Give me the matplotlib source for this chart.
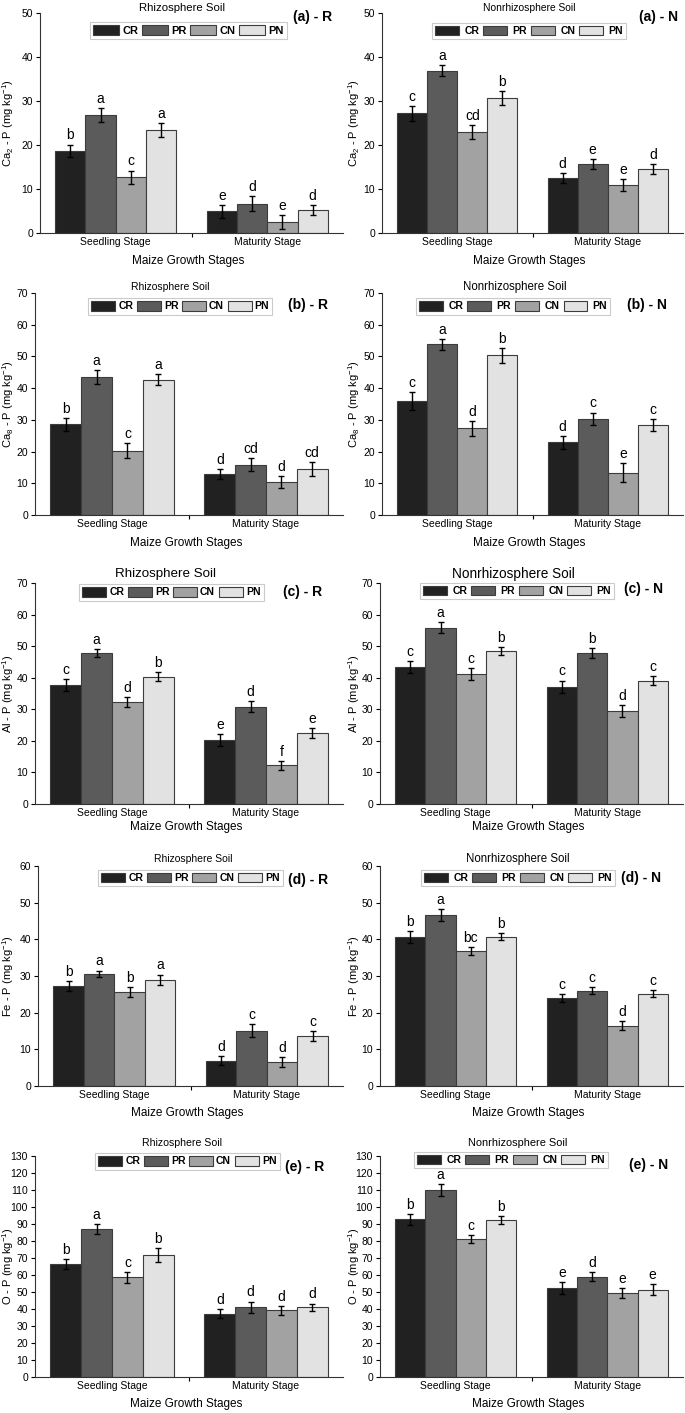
import matplotlib
matplotlib.use("Agg")
import matplotlib.pyplot as plt
from matplotlib.patches import Patch

plt.rcParams["font.family"] = ["Liberation Sans", "DejaVu Sans"]
plt.rcParams["mathtext.default"] = "regular"

#---------------------------
# Données
#---------------------------

treatments = ["CR", "PR", "CN", "PN"]
stages = ["Seedling Stage", "Maturity Stage"]
colors = ["#212121", "#5b5b5b", "#a2a2a2", "#e2e2e2"]

# Ca2-P
ca2_r_val = [[18.7, 26.8, 12.7, 23.4], [4.9, 6.6, 2.5, 5.2]]
ca2_r_err = [[1.4, 1.5, 1.5, 1.6], [1.5, 1.7, 1.5, 1.2]]
ca2_r_let = [["b", "a", "c", "a"], ["e", "d", "e", "d"]]
ca2_n_val = [[27.2, 36.9, 22.9, 30.7], [12.5, 15.7, 10.9, 14.6]]
ca2_n_err = [[1.7, 1.2, 1.6, 1.5], [1.1, 1.2, 1.4, 1.1]]
ca2_n_let = [["c", "a", "cd", "b"], ["d", "e", "e", "d"]]

# Ca8-P
ca8_r_val = [[28.6, 43.5, 20.3, 42.7], [12.9, 15.9, 10.5, 14.6]]
ca8_r_err = [[2.0, 2.3, 2.3, 1.7], [1.7, 2.0, 1.9, 2.2]]
ca8_r_let = [["b", "a", "c", "a"], ["d", "cd", "d", "cd"]]
ca8_n_val = [[35.9, 53.8, 27.3, 50.3], [22.9, 30.4, 13.4, 28.4]]
ca8_n_err = [[2.9, 1.7, 2.4, 2.4], [2.0, 1.9, 2.9, 2.0]]
ca8_n_let = [["c", "a", "d", "b"], ["d", "c", "e", "c"]]

# Al-P
al_r_val = [[37.7, 47.9, 32.4, 40.3], [20.3, 30.8, 12.2, 22.5]]
al_r_err = [[2.0, 1.3, 1.6, 1.4], [1.9, 1.7, 1.5, 1.7]]
al_r_let = [["c", "a", "d", "b"], ["e", "d", "f", "e"]]
al_n_val = [[43.4, 55.9, 41.2, 48.5], [37.1, 47.7, 29.5, 39.0]]
al_n_err = [[1.9, 1.6, 1.8, 1.3], [2.0, 1.6, 1.9, 1.4]]
al_n_let = [["c", "a", "c", "b"], ["c", "b", "d", "c"]]

# Fe-P
fe_r_val = [[27.2, 30.6, 25.6, 29.0], [6.9, 15.1, 6.5, 13.7]]
fe_r_err = [[1.4, 0.9, 1.3, 1.4], [1.3, 1.7, 1.4, 1.3]]
fe_r_let = [["b", "a", "b", "a"], ["d", "c", "d", "c"]]
fe_n_val = [[40.6, 46.7, 36.8, 40.7], [24.0, 26.0, 16.5, 25.2]]
fe_n_err = [[1.6, 1.6, 1.2, 1.0], [1.2, 0.9, 1.2, 1.0]]
fe_n_let = [["b", "a", "bc", "b"], ["c", "c", "d", "c"]]

# O-P
o_r_val = [[66.6, 86.9, 58.7, 71.7], [37.2, 40.9, 39.2, 40.9]]
o_r_err = [[2.9, 2.9, 3.3, 4.1], [2.7, 3.5, 2.5, 2.3]]
o_r_let = [["b", "a", "c", "b"], ["d", "d", "d", "d"]]
o_n_val = [[92.8, 109.8, 81.2, 92.4], [52.3, 59.1, 49.3, 51.3]]
o_n_err = [[3.1, 3.5, 2.2, 2.2], [3.5, 2.5, 2.9, 3.3]]
o_n_let = [["b", "a", "c", "b"], ["e", "d", "e", "e"]]

ylabels = ["Ca$_2$ - P (mg kg$^{-1}$)", "Ca$_8$ - P (mg kg$^{-1}$)",
           "Al - P (mg kg$^{-1}$)", "Fe - P (mg kg$^{-1}$)", "O - P (mg kg$^{-1}$)"]
tags = ["a", "b", "c", "d", "e"]
ymax = [50, 70, 70, 60, 130]
ystep = [10, 10, 10, 10, 10]

data = [
    [(ca2_r_val, ca2_r_err, ca2_r_let), (ca2_n_val, ca2_n_err, ca2_n_let)],
    [(ca8_r_val, ca8_r_err, ca8_r_let), (ca8_n_val, ca8_n_err, ca8_n_let)],
    [(al_r_val, al_r_err, al_r_let), (al_n_val, al_n_err, al_n_let)],
    [(fe_r_val, fe_r_err, fe_r_let), (fe_n_val, fe_n_err, fe_n_let)],
    [(o_r_val, o_r_err, o_r_let), (o_n_val, o_n_err, o_n_let)],
]

#---------------------------
# Mise en page (pixels)
#---------------------------

W, H = 685, 1413
x_left_rows = [[40, 382], [35, 382], [35, 380], [38, 380], [35, 380]]
x_right = [343, 683]
y_top = [13, 293, 583, 866, 1156]
y_bot = [233, 515, 804, 1086, 1377]
ylab_x = [16, 362]     # bord droit du label y (px)

title_x = [[0.47, 0.49], [0.44, 0.44], [0.425, 0.44], [0.51, 0.455], [0.477, 0.455]]
title_size = [[8.2, 7.4], [7.5, 8.3], [9.6, 9.8], [7.5, 8.3], [7.6, 7.9]]
title_dy = [23, 27, 41, 32, 59]     # millièmes au-dessus du cadre
leg_pos = [[(0.165, 0.96), (0.166, 0.955)],
           [(0.172, 0.977), (0.113, 0.977)],
           [(0.143, 0.995), (0.132, 1.0)],
           [(0.197, 0.982), (0.135, 0.982)],
           [(0.195, 1.013), (0.112, 1.02)]]
leg_fs = [[8.0, 7.5], [7.5, 7.5], [7.5, 7.5], [7.5, 7.5], [7.5, 7.5]]
tag_pos = [[(0.90, 0.98), (0.917, 0.98)],
           [(0.887, 0.946), (0.88, 0.946)],
           [(0.87, 0.96), (0.87, 0.975)],
           [(0.885, 0.936), (0.86, 0.945)],
           [(0.877, 0.95), (0.885, 0.96)]]
xlab_dy = [28, 28, 23, 27, 27]

width = 0.2
offsets = [-0.3, -0.1, 0.1, 0.3]

fig = plt.figure(figsize=(W / 100, H / 100), dpi=100)

for r in range(5):
    for c in range(2):
        x0 = x_left_rows[r][c]
        x1 = x_right[c]
        ax = fig.add_axes([x0 / W, 1 - y_bot[r] / H, (x1 - x0) / W, (y_bot[r] - y_top[r]) / H])
        vals, errs, lets = data[r][c]
        h_ax = y_bot[r] - y_top[r]

        for t in range(4):
            xs = [s + offsets[t] for s in range(2)]
            ys = [vals[s][t] for s in range(2)]
            es = [errs[s][t] for s in range(2)]
            ax.bar(xs, ys, width, color=colors[t], edgecolor="#3c3c3c", linewidth=0.8, zorder=2)
            ax.errorbar(xs, ys, yerr=es, fmt="none", ecolor="black", elinewidth=1.0,
                        capsize=2.5, capthick=1.0, zorder=3)
            for s in range(2):
                ax.annotate(lets[s][t], (xs[s], ys[s] + es[s]), xytext=(0, 1.5),
                            textcoords="offset points", ha="center", va="bottom", fontsize=10)

        ax.set_xlim(-0.5, 1.5)
        ax.set_ylim(0, ymax[r])
        ax.set_yticks(range(0, ymax[r] + 1, ystep[r]))
        ax.set_xticks([0, 1])
        ax.set_xticklabels(stages, fontsize=7.5)
        ax.tick_params(axis="x", length=0, pad=3)
        ax.set_xticks([0.5], minor=True)
        ax.tick_params(axis="x", which="minor", length=3, width=0.8)
        ax.tick_params(axis="y", length=3, width=0.8, labelsize=7.5, pad=2)
        for sp in ["top", "right"]:
            ax.spines[sp].set_visible(False)
        for sp in ["left", "bottom"]:
            ax.spines[sp].set_linewidth(0.8)
            ax.spines[sp].set_color("#333333")

        ax.set_ylabel(ylabels[r], fontsize=8)
        ax.yaxis.set_label_coords((ylab_x[c] - x0) / (x1 - x0), 0.5)

        soil = "Rhizosphere Soil" if c == 0 else "Nonrhizosphere Soil"
        ax.text(title_x[r][c], 1 + title_dy[r] / 1000, soil, transform=ax.transAxes,
                ha="center", va="center", fontsize=title_size[r][c])
        ax.text(tag_pos[r][c][0], tag_pos[r][c][1], f"({tags[r]}) - {'R' if c == 0 else 'N'}",
                transform=ax.transAxes, ha="center", va="center", fontsize=10, fontweight="bold")
        ax.text(0.49, -xlab_dy[r] / h_ax, "Maize Growth Stages", transform=ax.transAxes,
                ha="center", va="center", fontsize=8.5)

        handles = [Patch(facecolor=colors[t], edgecolor="#3c3c3c", linewidth=0.8) for t in range(4)]
        leg = ax.legend(handles, treatments, ncol=4, loc="upper left",
                        bbox_to_anchor=leg_pos[r][c], frameon=True, fancybox=False,
                        edgecolor="#bdbdbd", fontsize=leg_fs[r][c], handlelength=2.3,
                        handleheight=1.0,
                        handletextpad=0.3 if c == 0 else 0.5,
                        columnspacing=0.35 if c == 0 else 0.4,
                        borderpad=0.3, borderaxespad=0)
        leg.get_frame().set_linewidth(0.8)
        for txt in leg.get_texts():
            txt.set_fontweight("bold")

fig.savefig("out.png", dpi=100)
